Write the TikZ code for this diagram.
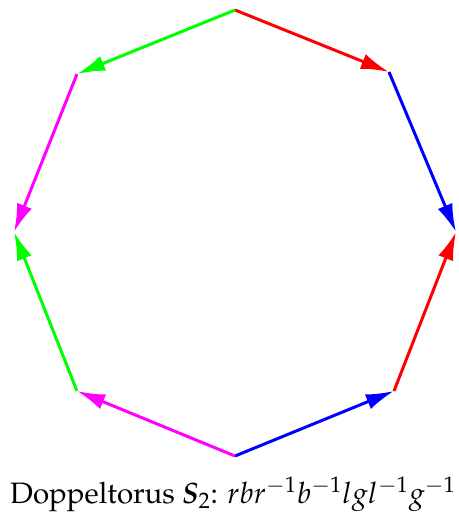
\documentclass[tikz,border=0pt]{standalone}
\usepackage[T1]{fontenc}
\usepackage{mathpazo}
\usetikzlibrary{arrows.meta}
\definecolor{mag}{RGB}{255,0,255}
\definecolor{grn}{RGB}{0,255,0}

\begin{document}
\begin{tikzpicture}[x=0.02cm,y=-0.02cm,
  edge/.style={line width=1.7pt,-{Latex[length=16pt,width=9pt]}}]
  \useasboundingbox (0,0) rectangle (458,522);
  \coordinate (t) at (235,10); \coordinate (ur) at (389,72);
  \coordinate (r) at (456,232); \coordinate (lr) at (394,391);
  \coordinate (b) at (235,456); \coordinate (ll) at (77,391);
  \coordinate (l) at (14,232); \coordinate (ul) at (77,74);
  \draw[edge,red] (t) -- (ur);
  \draw[edge,blue] (ur) -- (r);
  \draw[edge,red] (lr) -- (r);
  \draw[edge,blue] (b) -- (lr);
  \draw[edge,mag] (b) -- (ll);
  \draw[edge,grn] (ll) -- (l);
  \draw[edge,mag] (ul) -- (l);
  \draw[edge,grn] (t) -- (ul);
  \node (lbl) at (233,494) {\fontsize{16.8}{20}\selectfont Doppeltorus {\fontseries{b}\itshape S}$_2$: $rbr^{-1}b^{-1}lgl^{-1}g^{-1}$};
\end{tikzpicture}
\end{document}
